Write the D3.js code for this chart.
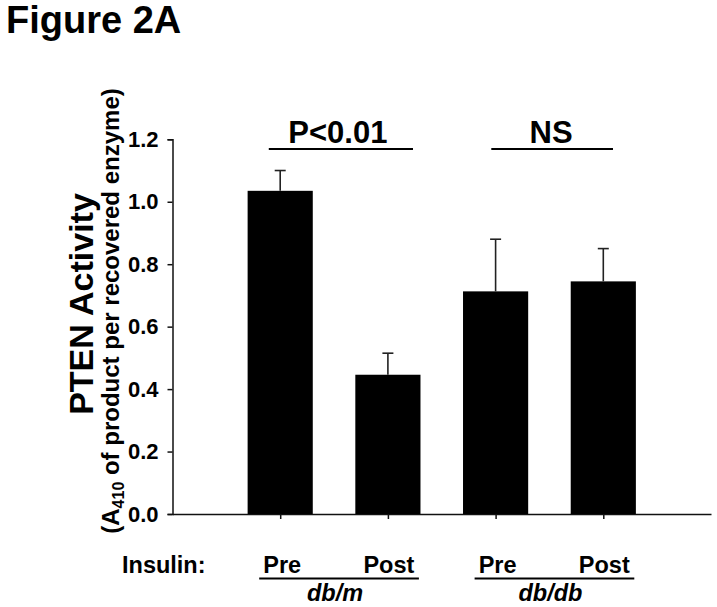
<!DOCTYPE html>
<html>
<head>
<meta charset="utf-8">
<script src="https://cdn.jsdelivr.net/npm/d3@7"></script>
<style>
  html, body { margin: 0; padding: 0; background: #fff; }
  svg { display: block; font-family: "Liberation Sans", Arial, sans-serif; }
</style>
</head>
<body>
<svg id="chart" width="717" height="607"></svg>
<script>
// ---- data ----
const categories = ["Pre", "Post", "Pre", "Post"];
const groups = ["db/m", "db/db"];
const groupOfBar = [0, 0, 1, 1];
const values = [1.035, 0.446, 0.713, 0.745];
const errors = [0.065, 0.069, 0.167, 0.105];
const yTicks = [0.0, 0.2, 0.4, 0.6, 0.8, 1.0, 1.2];
const sigLabels = ["P<0.01", "NS"];
const sigPairs = [[0, 1], [2, 3]];

// ---- layout ----
const svg = d3.select("#chart");
const FONT = "'Liberation Sans', Arial, sans-serif";

const x = d3.scaleLinear().domain([0, categories.length + 1]).range([172.5, 711]);
const y = d3.scaleLinear().domain([0, 1.2]).range([514, 139.3]);
const step = x(1) - x(0);
const barW = step * 0.605;

// title
svg.append("text")
  .attr("x", 6).attr("y", 33)
  .style("font-size", "38px").style("font-weight", "bold")
  .text("Figure 2A");

// y axis
const yAxis = d3.axisLeft(y)
  .tickValues(yTicks)
  .tickFormat(d3.format(".1f"))
  .tickSize(5)
  .tickPadding(9);
const gy = svg.append("g").attr("transform", `translate(${x(0)},0)`).call(yAxis);
gy.select(".domain").attr("stroke", "#111").attr("stroke-width", 1.5);
gy.selectAll(".tick line").attr("stroke", "#111").attr("stroke-width", 1.5);
gy.selectAll(".tick text")
  .style("font-size", "22px").style("font-weight", "bold")
  .style("font-family", FONT).attr("fill", "#000");

// x axis
const xAxis = d3.axisBottom(x)
  .tickValues(d3.range(1, categories.length + 1))
  .tickFormat("")
  .tickSize(5)
  .tickSizeOuter(0);
const gx = svg.append("g").attr("transform", `translate(0,${y(0)})`).call(xAxis);
gx.select(".domain").attr("stroke", "#111").attr("stroke-width", 1.5);
gx.selectAll(".tick line").attr("stroke", "#111").attr("stroke-width", 1.5);

// bars
svg.append("g").selectAll("rect")
  .data(values)
  .join("rect")
  .attr("x", (d, i) => x(i + 1) - barW / 2)
  .attr("y", d => y(d))
  .attr("width", barW)
  .attr("height", d => y(0) - y(d))
  .attr("fill", "#000");

// error bars (upper only)
const eg = svg.append("g").attr("stroke", "#222").attr("stroke-width", 1.6);
values.forEach((v, i) => {
  const cx = x(i + 1);
  eg.append("line").attr("x1", cx).attr("x2", cx).attr("y1", y(v)).attr("y2", y(v + errors[i]));
  eg.append("line").attr("x1", cx - 5.5).attr("x2", cx + 5.5).attr("y1", y(v + errors[i])).attr("y2", y(v + errors[i]));
});

// significance annotations
const sigOffsets = [[-0.106, 0.233], [-0.04, 0.09]];
const sigTextShift = [-3, -1];
sigPairs.forEach((p, k) => {
  const x1 = x(p[0] + 1) + sigOffsets[k][0] * step;
  const x2 = x(p[1] + 1) + sigOffsets[k][1] * step;
  svg.append("line")
    .attr("x1", x1).attr("x2", x2)
    .attr("y1", 149).attr("y2", 149)
    .attr("stroke", "#000").attr("stroke-width", 2.2);
  svg.append("text")
    .attr("x", (x1 + x2) / 2 + sigTextShift[k]).attr("y", 143)
    .attr("text-anchor", "middle")
    .style("font-size", "31px").style("font-weight", "bold")
    .text(sigLabels[k]);
});

// y axis titles
svg.append("text")
  .attr("transform", "translate(93,304) rotate(-90)")
  .attr("text-anchor", "middle")
  .style("font-size", "34px").style("font-weight", "bold")
  .text("PTEN Activity");
const sub = svg.append("text")
  .attr("transform", "translate(119,311) rotate(-90)")
  .attr("text-anchor", "middle")
  .style("font-size", "24px").style("font-weight", "bold");
sub.append("tspan").text("(A");
sub.append("tspan").style("font-size", "16px").attr("dy", 5).text("410");
sub.append("tspan").attr("dy", -5).text(" of product per recovered enzyme)");

// bottom labels
svg.append("text")
  .attr("x", 122).attr("y", 573)
  .style("font-size", "23.5px").style("font-weight", "bold")
  .text("Insulin:");

svg.append("g").selectAll("text")
  .data(categories)
  .join("text")
  .attr("x", (d, i) => x(i + 1) + (i % 2 === 0 ? 2 : 1))
  .attr("y", 573)
  .attr("text-anchor", "middle")
  .style("font-size", "23.5px").style("font-weight", "bold")
  .text(d => d);

groups.forEach((g, k) => {
  const idx = groupOfBar.map((gi, i) => gi === k ? i : -1).filter(i => i >= 0);
  const x1 = x(idx[0] + 1) - 21;
  const x2 = x(idx[idx.length - 1] + 1) + 31;
  svg.append("line")
    .attr("x1", x1).attr("x2", x2)
    .attr("y1", 578.5).attr("y2", 578.5)
    .attr("stroke", "#000").attr("stroke-width", 2.2);
  svg.append("text")
    .attr("x", (x1 + x2) / 2 - 4).attr("y", 601)
    .attr("text-anchor", "middle")
    .style("font-size", "23.5px").style("font-weight", "bold").style("font-style", "italic")
    .text(g);
});
</script>
</body>
</html>
